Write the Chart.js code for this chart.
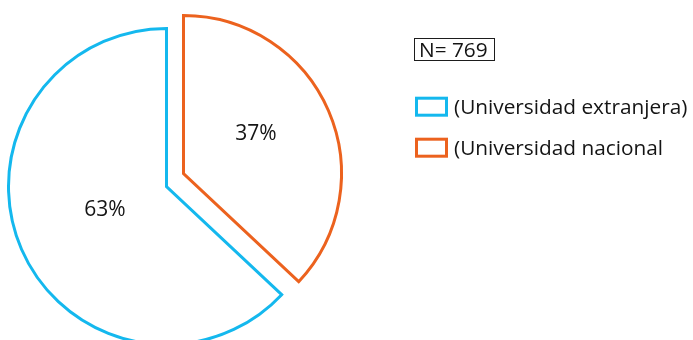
<!DOCTYPE html>
<html>
<head>
<meta charset="utf-8">
<script src="https://cdn.jsdelivr.net/npm/chart.js@4/dist/chart.umd.min.js"></script>
<style>
  html, body { margin: 0; padding: 0; background: #ffffff; overflow: hidden; }
  #wrap { width: 693px; height: 340px; position: relative; }
</style>
</head>
<body>
<div id="wrap"><canvas id="pie" width="693" height="340"></canvas></div>
<script>
// Origin of university degree
const categories = ['(Universidad extranjera)', '(Universidad nacional'];
const shares = [63, 37];
const sampleSize = 769;

const lineColors = ['#14B8EE', '#EC621E'];
const FONT = '"Open Sans", "Noto Sans", sans-serif';
const TEXT_COLOR = '#141414';

// Pull the national slice away from the centre
const EXPLODE = { index: 1, dx: 17, dy: -13 };
// Fine placement of the percentage labels around each slice's centre point
const LABEL_NUDGE = [[11, -10], [0, -10]];

const total = shares.reduce((a, b) => a + b, 0);

const explodePlugin = {
  id: 'explodeSlice',
  afterDatasetsUpdate(chart) {
    const arc = chart.getDatasetMeta(0).data[EXPLODE.index];
    if (arc) { arc.x += EXPLODE.dx; arc.y += EXPLODE.dy; }
  }
};

const percentLabels = {
  id: 'percentLabels',
  afterDatasetsDraw(chart) {
    const ctx = chart.ctx;
    const meta = chart.getDatasetMeta(0);
    ctx.save();
    ctx.font = '21px ' + FONT;
    ctx.fillStyle = TEXT_COLOR;
    ctx.textAlign = 'center';
    ctx.textBaseline = 'alphabetic';
    meta.data.forEach((arc, i) => {
      const p = arc.getCenterPoint();
      const txt = Math.round(shares[i] / total * 100) + '%';
      const m = ctx.measureText(txt);
      const asc = m.actualBoundingBoxAscent;
      ctx.fillText(txt, p.x + LABEL_NUDGE[i][0], p.y + LABEL_NUDGE[i][1] + asc / 2);
    });
    ctx.restore();
  }
};

const sideLegend = {
  id: 'sideLegend',
  afterDraw(chart) {
    const ctx = chart.ctx;
    ctx.save();
    ctx.font = '20.8px ' + FONT;
    ctx.fillStyle = TEXT_COLOR;
    ctx.textAlign = 'left';
    ctx.textBaseline = 'alphabetic';

    // sample size box
    const nText = 'N= ' + sampleSize;
    const nm = ctx.measureText('N');
    ctx.fillText(nText, 419, 49.5 + nm.actualBoundingBoxAscent / 2);
    ctx.strokeStyle = '#1d1d1d';
    ctx.lineWidth = 1;
    ctx.strokeRect(414.5, 38.5, 80, 22);

    // legend entries
    const items = chart.data.labels;
    const colors = chart.data.datasets[0].borderColor;
    items.forEach((label, i) => {
      const cy = 106.7 + i * 41;
      ctx.strokeStyle = colors[i];
      ctx.lineWidth = 3;
      ctx.strokeRect(416.5, cy - 8.5, 30, 17);
      const cap = ctx.measureText('U').actualBoundingBoxAscent;
      ctx.fillStyle = TEXT_COLOR;
      ctx.fillText(label, 454, cy + cap / 2);
    });
    ctx.restore();
  }
};

new Chart(document.getElementById('pie'), {
  type: 'pie',
  data: {
    labels: categories,
    datasets: [{
      data: shares,
      backgroundColor: ['#ffffff', '#ffffff'],
      borderColor: lineColors,
      borderWidth: 3,
      borderJoinStyle: 'miter',
      radius: 158
    }]
  },
  options: {
    responsive: false,
    animation: false,
    rotation: shares[1] / total * 360,
    layout: { padding: { left: 0, right: 360, top: 33, bottom: 0 } },
    plugins: {
      legend: { display: false },
      tooltip: { enabled: false },
      title: { display: false }
    }
  },
  plugins: [explodePlugin, percentLabels, sideLegend]
});
</script>
</body>
</html>
